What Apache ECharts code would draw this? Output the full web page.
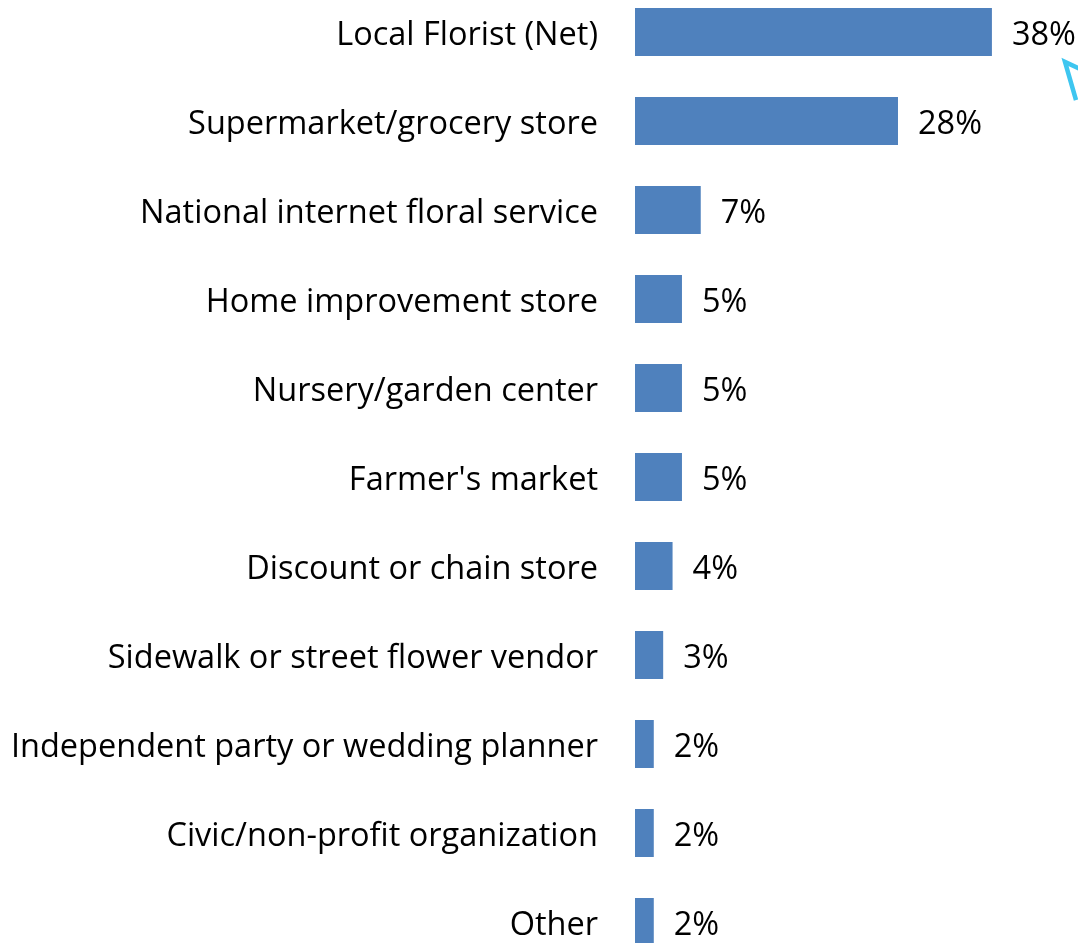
<!DOCTYPE html>
<html>
<head>
<meta charset="utf-8">
<style>
  html, body { margin: 0; padding: 0; background: #fff; }
  #chart { width: 1078px; height: 943px; }
</style>
<script src="https://cdn.jsdelivr.net/npm/echarts@6/dist/echarts.min.js"></script>
</head>
<body>
<div id="chart"></div>
<script>
// Where flowers were purchased (share of respondents, %)
const categories = [
  'Local Florist (Net)',
  'Supermarket/grocery store',
  'National internet floral service',
  'Home improvement store',
  'Nursery/garden center',
  "Farmer's market",
  'Discount or chain store',
  'Sidewalk or street flower vendor',
  'Independent party or wedding planner',
  'Civic/non-profit organization',
  'Other'
];
const shares = [38, 28, 7, 5, 5, 5, 4, 3, 2, 2, 2];

const FONT = '"Open Sans", "Noto Sans", sans-serif';

const chart = echarts.init(document.getElementById('chart'), null, { renderer: 'canvas' });

chart.setOption({
  animation: false,
  backgroundColor: '#ffffff',
  grid: {
    left: 635,
    width: 375.7,
    top: -12.5,
    height: 979,
    outerBoundsMode: 'none'
  },
  xAxis: {
    type: 'value',
    min: 0,
    max: 40,
    show: false
  },
  yAxis: {
    type: 'category',
    data: categories,
    inverse: true,
    axisLine: { show: false },
    axisTick: { show: false },
    splitLine: { show: false },
    axisLabel: {
      margin: 37,
      color: '#000000',
      fontFamily: FONT,
      fontSize: 32.5,
      // drop the text a few pixels below the band centre
      verticalAlign: 'top',
      lineHeight: 8
    }
  },
  series: [{
    type: 'bar',
    data: shares,
    barWidth: 48,
    itemStyle: { color: '#4F81BD' },
    label: {
      show: true,
      position: 'right',
      distance: 20,
      offset: [0, 4],
      formatter: '{c}%',
      color: '#000000',
      fontFamily: FONT,
      fontSize: 32.5
    }
  }],
  graphic: [{
    // callout arrowhead pointing toward the top value
    type: 'polyline',
    shape: { points: [[1080, 69], [1065, 62], [1076, 100]] },
    style: { stroke: '#3EC6F0', lineWidth: 4.5, fill: null, lineJoin: 'miter' }
  }]
});
</script>
</body>
</html>
